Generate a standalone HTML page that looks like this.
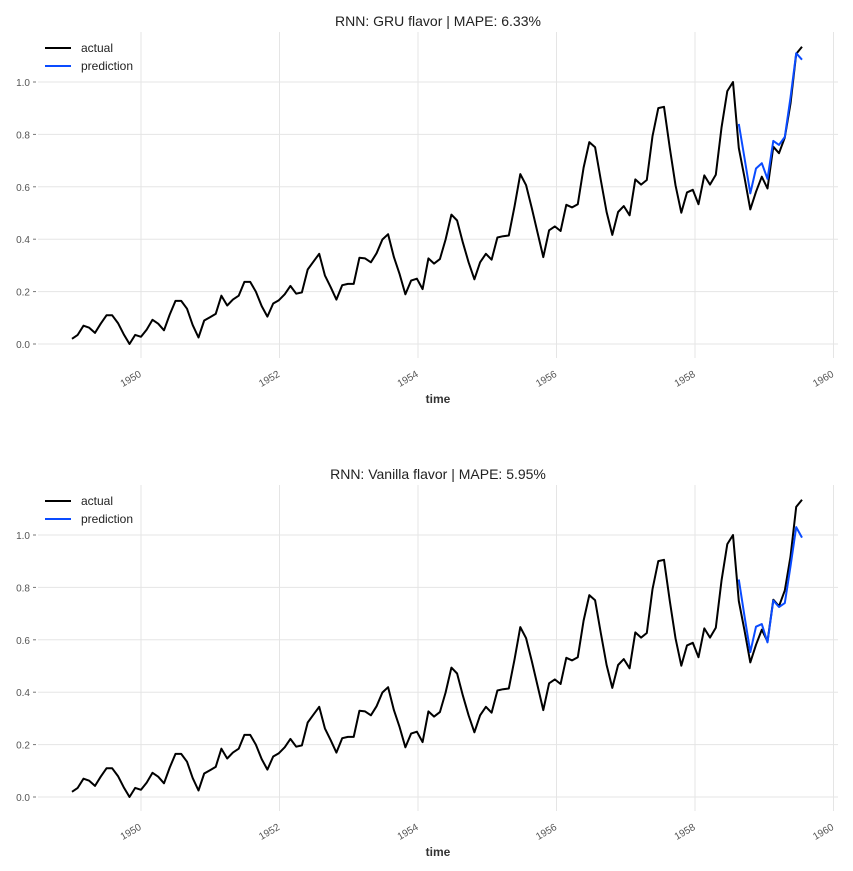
<!DOCTYPE html>
<html><head><meta charset="utf-8"><style>
body{margin:0;background:#fff;}
svg{display:block;font-family:"Liberation Sans","DejaVu Sans",sans-serif;}
</style></head><body>
<svg id="chart" width="853" height="871"></svg>
<script>
const actualValues=[112,118,132,129,121,135,148,148,136,119,104,118,115,126,141,135,125,149,170,170,158,133,114,140,145,150,178,163,172,178,199,199,184,162,146,166,171,180,193,181,183,218,230,242,209,191,172,194,196,196,236,235,229,243,264,272,237,211,180,201,204,188,235,227,234,264,302,293,259,229,203,229,242,233,267,269,270,315,364,347,312,274,237,278,284,277,317,313,318,374,413,405,355,306,271,306,315,301,356,348,355,422,465,467,404,347,305,336,340,318,362,348,363,435,491,505,404,359,310,337,360,342,406,396,420,472,548,559];
const scaleMin=104, scaleMax=505;
const gruPred=[0.84,0.71,0.575,0.67,0.69,0.63,0.775,0.76,0.79,0.94,1.11,1.085];
const vanillaPred=[0.83,0.69,0.553,0.65,0.66,0.59,0.75,0.725,0.74,0.88,1.03,0.99];
const predStart=116; // month index of 1958-09
const yTicks=[0.0,0.2,0.4,0.6,0.8,1.0];
const xTickYears=[1950,1952,1954,1956,1958,1960];
const titles=["RNN: GRU flavor | MAPE: 6.33%","RNN: Vanilla flavor | MAPE: 5.95%"];
const NS="http://www.w3.org/2000/svg";
const svg=document.getElementById('chart');
function mk(tag,attrs,parent){const e=document.createElementNS(NS,tag);for(const k in attrs)e.setAttribute(k,attrs[k]);(parent||svg).appendChild(e);return e;}
const xOf=t=>141+(t-1950)*69.25; // grid years
const xMonth=i=>72+i*5.748; // month index from 1949-01
function panel(off,title,pred,name){
  const g=mk('g',{});
  
  
  const yOf=v=>344+off-v*262;
  const left=38,right=838,top=32+off,bottom=358+off;
  xTickYears.forEach(y=>{const x=xOf(y);
    const l=mk('line',{x1:x,x2:x,y1:top,y2:bottom,stroke:'#e5e5e5','stroke-width':1},g);
    
    const t=mk('text',{x:x+1,y:bottom+18,'font-size':10,fill:'#555','text-anchor':'end',transform:`rotate(-30 ${x+1} ${bottom+18})`},g);
    t.textContent=y;});
  yTicks.forEach(v=>{const y=yOf(v);
    const l=mk('line',{x1:left,x2:right,y1:y,y2:y,stroke:'#e5e5e5','stroke-width':1},g);
    
    mk('line',{x1:33,x2:36,y1:y,y2:y,stroke:'#777','stroke-width':1},g);
    const t=mk('text',{x:30,y:y+4,'font-size':10,fill:'#555','text-anchor':'end'},g);
    t.textContent=v.toFixed(1);});
  const tt=mk('text',{x:438,y:26+off,'font-size':14,fill:'#222','text-anchor':'middle'},g);
  tt.textContent=title;
  const xl=mk('text',{x:438,y:403+off,'font-size':12,'font-weight':'bold',fill:'#333','text-anchor':'middle'},g);
  xl.textContent='time';
  const ap=actualValues.map((v,i)=>`${xMonth(i).toFixed(1)},${yOf((v-scaleMin)/(scaleMax-scaleMin)).toFixed(1)}`).join(' ');
  const a=mk('polyline',{points:ap,fill:'none',stroke:'#000','stroke-width':2,'stroke-linejoin':'round'},g);
  
  const pp=pred.map((v,i)=>`${xMonth(predStart+i).toFixed(1)},${yOf(v).toFixed(1)}`).join(' ');
  const p=mk('polyline',{points:pp,fill:'none',stroke:'#0a4bff','stroke-width':2,'stroke-linejoin':'round'},g);
  
  const lg=mk('g',{},g);
  
  [['actual','#000',48],['prediction','#0a4bff',66]].forEach(([lab,c,y])=>{
    mk('line',{x1:45,x2:71,y1:y+off,y2:y+off,stroke:c,'stroke-width':2},lg);
    const t=mk('text',{x:81,y:y+4+off,'font-size':12,fill:'#222'},lg);
    t.textContent=lab;});
}
panel(0,titles[0],gruPred,'gru-panel');
panel(453,titles[1],vanillaPred,'vanilla-panel');
</script>
</body></html>
